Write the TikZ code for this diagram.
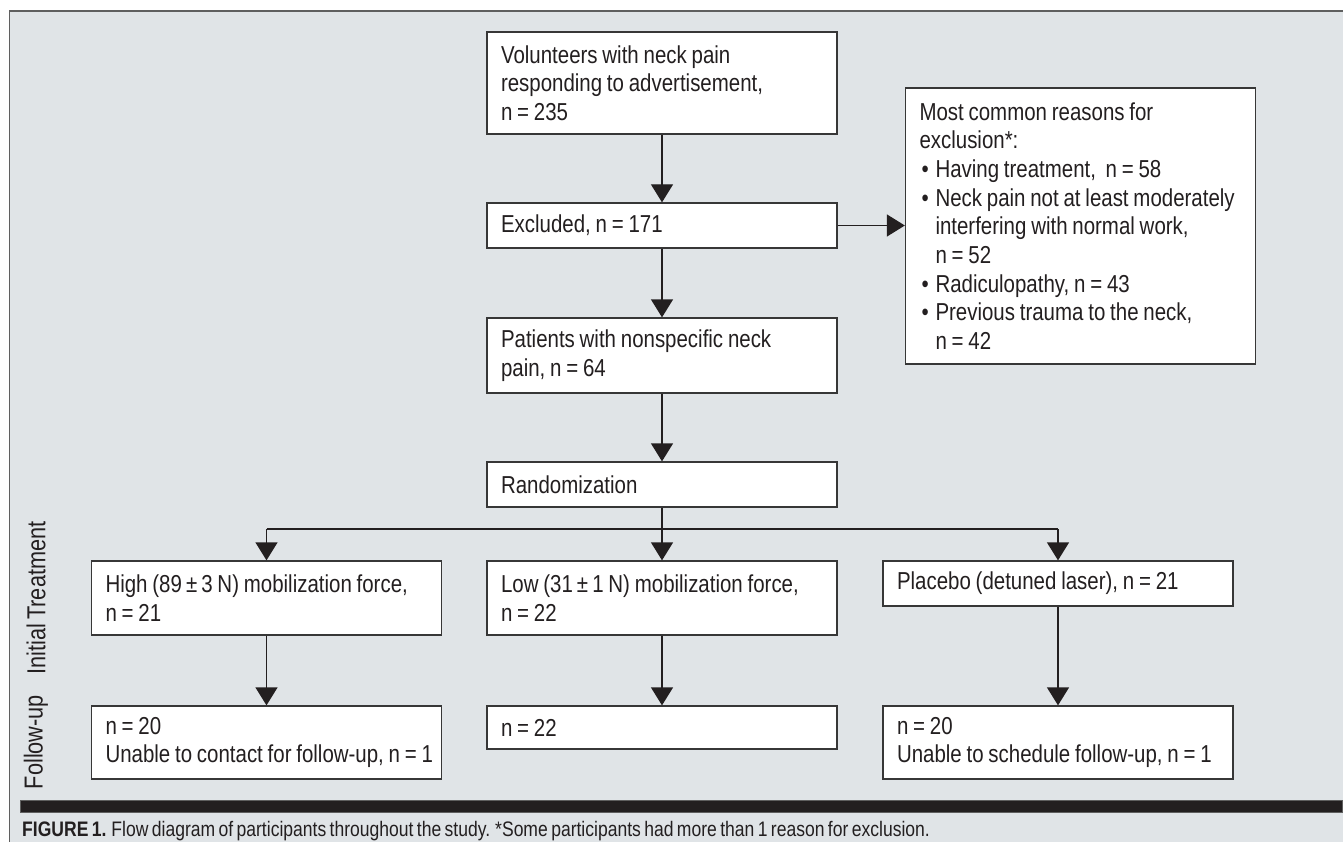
\documentclass[tikz,border=0pt]{standalone}
\usepackage{fontspec}
\setmainfont{Liberation Sans}[FakeStretch=0.835]
\usetikzlibrary{arrows.meta}
\definecolor{bg}{RGB}{224,228,231}
\definecolor{ink}{RGB}{35,31,32}
\definecolor{edge}{RGB}{55,55,55}
\definecolor{frame}{RGB}{95,95,95}
\newcommand\myboxfont{\fontsize{24.5}{28.7}\selectfont\setlength{\spaceskip}{4.8pt plus 1pt minus 0.5pt}}
\newcommand\mysidefont{\fontsize{26}{28}\selectfont\setlength{\spaceskip}{4pt plus 1pt}}
\newcommand\mycapfont{\fontsize{21}{22}\selectfont\setlength{\spaceskip}{3.4pt plus 1pt}}
\begin{document}
\begin{tikzpicture}[x=1pt,y=-1pt,
  box/.style={draw=edge, line width=1.3pt, fill=white, text=ink, inner xsep=14pt, inner ysep=0pt,
    text width=322pt, align=flush left, font=\myboxfont},
  link/.style={draw=ink, line width=1.3pt},
  flow/.style={link, -{Triangle[width=22pt,length=18pt]}},
  side/.style={rotate=90, text=ink, font=\mysidefont}]
\useasboundingbox (0,0) rectangle (1343,842);
\fill[white] (0,0) rectangle (1343,842);
\fill[bg] (10,11) rectangle (1343,842);
\draw[frame, line width=1.5pt] (9.5,842) -- (9.5,11) -- (1343,11);

\node[box, minimum height=102pt] (vol) at (662,83) {Volunteers with neck pain\\\mbox{responding to advertisement,}\\n = 235};
\node[box, minimum height=45pt] (exc) at (662,225.5) {Excluded, n = 171};
\node[box, minimum height=276pt] (rea) at (1080.5,226) {Most common reasons for\\exclusion*:\\
\mbox{\makebox[16pt][l]{\hspace{2pt}•}Having treatment, \ n = 58}\\
\mbox{\makebox[16pt][l]{\hspace{2pt}•}Neck pain not at least moderately}\\
\mbox{\hspace*{16pt}interfering with normal work,}\\
\hspace*{16pt}n = 52\\
\mbox{\makebox[16pt][l]{\hspace{2pt}•}Radiculopathy, n = 43}\\
\mbox{\makebox[16pt][l]{\hspace{2pt}•}Previous trauma to the neck,}\\
\hspace*{16pt}n = 42};
\node[box, minimum height=75pt] (pat) at (662,355.5) {\mbox{Patients with nonspecific neck}\\pain, n = 64};
\node[box, minimum height=45pt] (ran) at (662,484.5) {Randomization};
\node[box, minimum height=74pt] (hi) at (266.5,598) {\mbox{High (89\,±\,3 N) mobilization force,}\\n = 21};
\node[box, minimum height=74pt] (lo) at (662,598) {\mbox{Low (31\,±\,1 N) mobilization force,}\\n = 22};
\node[box, minimum height=45pt] (pl) at (1058,583.5) {\mbox{Placebo (detuned laser), n = 21}};
\node[box, minimum height=73pt] (fh) at (266.5,742.5) {n = 20\\\mbox{Unable to contact for follow-up, n = 1}};
\node[box, minimum height=43pt] (fl) at (662,727.5) {n = 22};
\node[box, minimum height=73pt] (fp) at (1058,742.5) {n = 20\\\mbox{Unable to schedule follow-up, n = 1}};

\draw[flow] (vol.south) -- (exc.north);
\draw[flow] (exc.east) -- (exc.east -| rea.west);
\draw[flow] (exc.south) -- (pat.north);
\draw[flow] (pat.south) -- (ran.north);
\coordinate (br) at (662,529);
\draw[link] (ran.south) -- (br);
\draw[link] (hi.north |- br) -- (pl.north |- br);
\draw[flow] (br) -- (lo.north);
\draw[flow] (hi.north |- br) -- (hi.north);
\draw[flow] (pl.north |- br) -- (pl.north);
\draw[flow] (hi.south) -- (fh.north);
\draw[flow] (lo.south) -- (fl.north);
\draw[flow] (pl.south) -- (fp.north);

\node[side] (lab1) at (36,598) {Initial Treatment};
\node[side] (lab2) at (36,742) {Follow-up};

\fill[ink, draw=frame, line width=0.6pt] (20,800) rectangle (1342,812);
\node[anchor=base west, inner sep=0pt, text=ink, font=\mycapfont] (cap) at (22,836.5)
  {\textbf{FIGURE 1.} Flow diagram of participants throughout the study. *Some participants had more than 1 reason for exclusion.};
\end{tikzpicture}
\end{document}
